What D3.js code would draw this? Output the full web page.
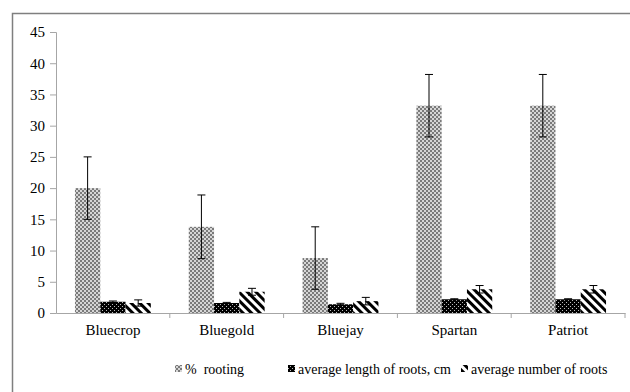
<!DOCTYPE html>
<html lang="en">
<head>
    <meta charset="UTF-8">
    <title>Rooting of blueberry cultivars</title>
    <style>
        body { margin: 0; background: #fff; }
        svg text { fill: #000; }
    </style>
</head>
<body>
    <script src="https://d3js.org/d3.v7.min.js"></script>
    <script>
// data
const cultivars = ["Bluecrop", "Bluegold", "Bluejay", "Spartan", "Patriot"];
const seriesNames = ["% rooting", "average length of roots, cm", "average number of roots"];
const rooting = [20, 13.8, 8.8, 33.2, 33.2];
const rootingErr = [5, 5.1, 5, 5, 5];
const rootLength = [1.8, 1.6, 1.4, 2.2, 2.2];
const rootLengthErr = [0.12, 0.1, 0.15, 0.08, 0.08];
const rootNumber = [1.6, 3.4, 1.9, 3.8, 3.8];
const rootNumberErr = [0.5, 0.55, 0.6, 0.6, 0.6];
const yTicks = [0, 5, 10, 15, 20, 25, 30, 35, 40, 45];

const width = 630, height = 392;
const plotLeft = 56, plotRight = 625, plotTop = 32, plotBottom = 313;
const serif = "'Liberation Serif', Tinos, 'Noto Serif', FreeSerif, 'Nimbus Roman', serif";

const svg = d3.select("body")
    .append("svg")
    .attr("width", width)
    .attr("height", height)
    .attr("font-family", serif);

// patterns
const defs = svg.append("defs");
const p1 = defs.append("pattern").attr("id", "pat0")
    .attr("patternUnits", "userSpaceOnUse").attr("width", 4).attr("height", 4);
p1.append("rect").attr("width", 4).attr("height", 4).attr("fill", "#d6d6d6");
p1.append("rect").attr("x", 0).attr("y", 0).attr("width", 2).attr("height", 2).attr("fill", "#7a7a7a");
p1.append("rect").attr("x", 2).attr("y", 2).attr("width", 2).attr("height", 2).attr("fill", "#7a7a7a");

const p2 = defs.append("pattern").attr("id", "pat1")
    .attr("patternUnits", "userSpaceOnUse").attr("width", 4).attr("height", 4);
p2.append("rect").attr("width", 4).attr("height", 4).attr("fill", "#000");
p2.append("rect").attr("x", 0).attr("y", 0).attr("width", 1).attr("height", 1).attr("fill", "#bbb");
p2.append("rect").attr("x", 2).attr("y", 2).attr("width", 1).attr("height", 1).attr("fill", "#bbb");

const p3 = defs.append("pattern").attr("id", "pat2")
    .attr("patternUnits", "userSpaceOnUse").attr("width", 6).attr("height", 6)
    .attr("patternTransform", "rotate(45)");
p3.append("rect").attr("width", 6).attr("height", 6).attr("fill", "#fff");
p3.append("rect").attr("width", 6).attr("height", 3).attr("fill", "#000");

// outer frame
svg.append("rect")
    .attr("x", 12.5).attr("y", 13.5)
    .attr("width", 700).attr("height", 500)
    .attr("fill", "none")
    .attr("stroke", "#7f7f7f")
    .attr("stroke-width", 1.5);

const x0 = d3.scaleBand().domain(cultivars).range([plotLeft, plotRight]).padding(0);
const groupW = x0.bandwidth() * 2 / 3;
const x1 = d3.scaleBand().domain(seriesNames).range([0, groupW]).padding(0);
const y = d3.scaleLinear().domain([0, 45]).range([plotBottom, plotTop]);

// y axis
const yAxis = svg.append("g")
    .attr("transform", `translate(${plotLeft},0)`)
    .call(d3.axisLeft(y).tickValues(yTicks).tickSize(6).tickPadding(5))
    .attr("font-family", serif)
    .attr("font-size", 15);
yAxis.select(".domain").attr("stroke", "#a6a6a6");
yAxis.selectAll(".tick line").attr("stroke", "#a6a6a6");
yAxis.selectAll(".tick text").attr("fill", "#000");

// bars
const series = [
    { name: seriesNames[0], vals: rooting, errs: rootingErr },
    { name: seriesNames[1], vals: rootLength, errs: rootLengthErr },
    { name: seriesNames[2], vals: rootNumber, errs: rootNumberErr }
];

series.forEach((s, k) => {
    const g = svg.append("g");
    cultivars.forEach((c, i) => {
        const bx = x0(c) + (x0.bandwidth() - groupW) / 2 + x1(s.name);
        g.append("rect")
            .attr("x", bx)
            .attr("y", y(s.vals[i]))
            .attr("width", x1.bandwidth())
            .attr("height", y(0) - y(s.vals[i]))
            .attr("fill", `url(#pat${k})`);
    });
});

// error bars drawn on top
series.forEach((s, k) => {
    cultivars.forEach((c, i) => {
        const cx = x0(c) + (x0.bandwidth() - groupW) / 2 + x1(s.name) + x1.bandwidth() / 2;
        const hi = y(s.vals[i] + s.errs[i]);
        const lo = y(s.vals[i] - s.errs[i]);
        const eg = svg.append("g").attr("stroke", "#000").attr("stroke-width", 1);
        eg.append("line").attr("x1", cx).attr("x2", cx).attr("y1", hi).attr("y2", lo);
        eg.append("line").attr("x1", cx - 4).attr("x2", cx + 4).attr("y1", hi).attr("y2", hi);
        eg.append("line").attr("x1", cx - 4).attr("x2", cx + 4).attr("y1", lo).attr("y2", lo);
    });
});

// x axis
const xAxis = svg.append("g")
    .attr("transform", `translate(0,${plotBottom})`)
    .call(d3.axisBottom(x0).tickSize(0).tickPadding(11))
    .attr("font-family", serif)
    .attr("font-size", 15);
xAxis.select(".domain").attr("stroke", "#a6a6a6");
xAxis.selectAll(".tick text").attr("fill", "#000");
// boundary ticks between categories
const bounds = cultivars.map(c => x0(c) + x0.bandwidth());
svg.append("g").selectAll("line")
    .data(bounds)
    .join("line")
    .attr("x1", d => d).attr("x2", d => d)
    .attr("y1", plotBottom).attr("y2", plotBottom + 5)
    .attr("stroke", "#a6a6a6");

// legend
const legendX = [175, 288, 461];
const legend = svg.append("g");
seriesNames.forEach((n, k) => {
    legend.append("rect")
        .attr("x", legendX[k])
        .attr("y", 365)
        .attr("width", 7)
        .attr("height", 7)
        .attr("fill", `url(#pat${k})`);
    legend.append("text")
        .attr("x", legendX[k] + 10)
        .attr("y", 374)
        .attr("font-size", 14)
        .attr("xml:space", "preserve")
        .text(n.replace("% rooting", "%  rooting"));
});
    </script>
</body>
</html>
